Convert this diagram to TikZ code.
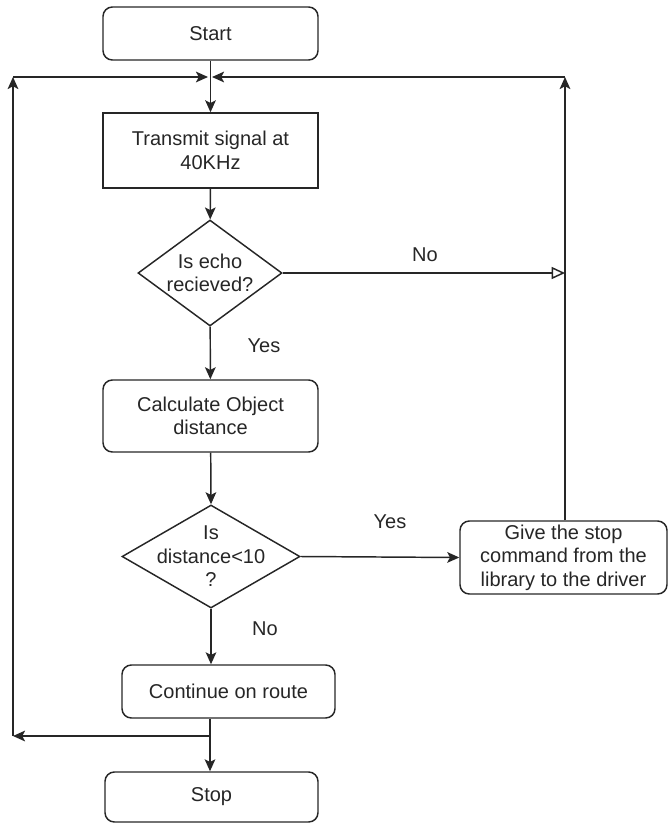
\documentclass[tikz,border=0pt]{standalone}
\usepackage{fontspec}
\setmainfont{Liberation Sans}
\usetikzlibrary{shapes.geometric,arrows.meta}
\definecolor{ink}{HTML}{262626}
\begin{document}
\begin{tikzpicture}[x=0.75pt,y=-0.75pt,
  every node/.style={font=\fontsize{15}{17.6}\selectfont, text=ink},
  line/.style={draw=ink, line width=1.1pt},
  arr/.style={line, -{Stealth[length=9pt,width=8pt,inset=2pt]}},
  openarr/.style={line, -{Triangle[open,length=10pt,width=9pt,fill=white]}},
  rbox/.style={line, rounded corners=7pt, align=center, inner sep=0pt},
  sbox/.style={line, align=center, inner sep=0pt},
  decision/.style={line, diamond, inner sep=0pt},
  lbl/.style={inner sep=0pt}]
\useasboundingbox (0,0) rectangle (668,825);

% process steps
\node[rbox, minimum width=215*0.75pt, minimum height=53*0.75pt] (start) at (210.5,33.5) {Start};
\node[sbox, minimum width=215*0.75pt, minimum height=75*0.75pt] (trans) at (210.5,150.5) {Transmit signal at\\40KHz};
\node[decision, minimum width=144*0.75pt, minimum height=106*0.75pt] (d1) at (210,273) {};
\node[align=center] at (d1) {Is echo\\recieved?};
\node[rbox, minimum width=215*0.75pt, minimum height=72*0.75pt] (calc) at (210.5,416) {Calculate Object\\distance};
\node[decision, minimum width=178*0.75pt, minimum height=103*0.75pt] (d2) at (211,556.5) {};
\node[align=center] at (d2) {Is\\distance<10\\?};
\node[rbox, minimum width=207*0.75pt, minimum height=73*0.75pt] (give) at (563.5,557.5) {Give the stop\\command from the\\library to the driver};
\node[rbox, minimum width=213*0.75pt, minimum height=53*0.75pt] (cont) at (228.5,691.5) {Continue on route};
\node[rbox, minimum width=213*0.75pt, minimum height=50*0.75pt] (stop) at (211.5,797) {Stop};

% routing points
\coordinate (top) at (210,77);
\coordinate (tl) at (13,77);
\coordinate (tr) at (565,77);
\coordinate (bl) at (13,736);
\coordinate (split) at (210,736);
\coordinate (noend) at (565,273);

% main flow
\draw[arr] (start) -- (trans);
\draw[arr] (trans) -- (d1);
\draw[arr] (d1) -- (calc);
\draw[arr] (calc) -- (d2.north);
\draw[arr] (d2.south) -- (d2.south |- cont.north);
\draw[arr] (cont.south -| split) -- (stop.north -| split);
\draw[arr] (d2.east) -- (give.west);
\draw[openarr] (d1.east) -- (noend);

% loop back on the left
\draw[arr] (split) -- (bl);
\draw[arr] (bl) -- (tl);
\draw[arr, shorten >=1.5pt] (tl) -- (top);

% loop back on the right
\draw[arr] (give.north -| tr) -- (tr);
\draw[arr, shorten >=1.5pt] (tr) -- (top);

% branch labels
\node[lbl] at (425,255) {No};
\node[lbl] at (264,346) {Yes};
\node[lbl] at (390,522) {Yes};
\node[lbl] at (265,629) {No};
\end{tikzpicture}
\end{document}
